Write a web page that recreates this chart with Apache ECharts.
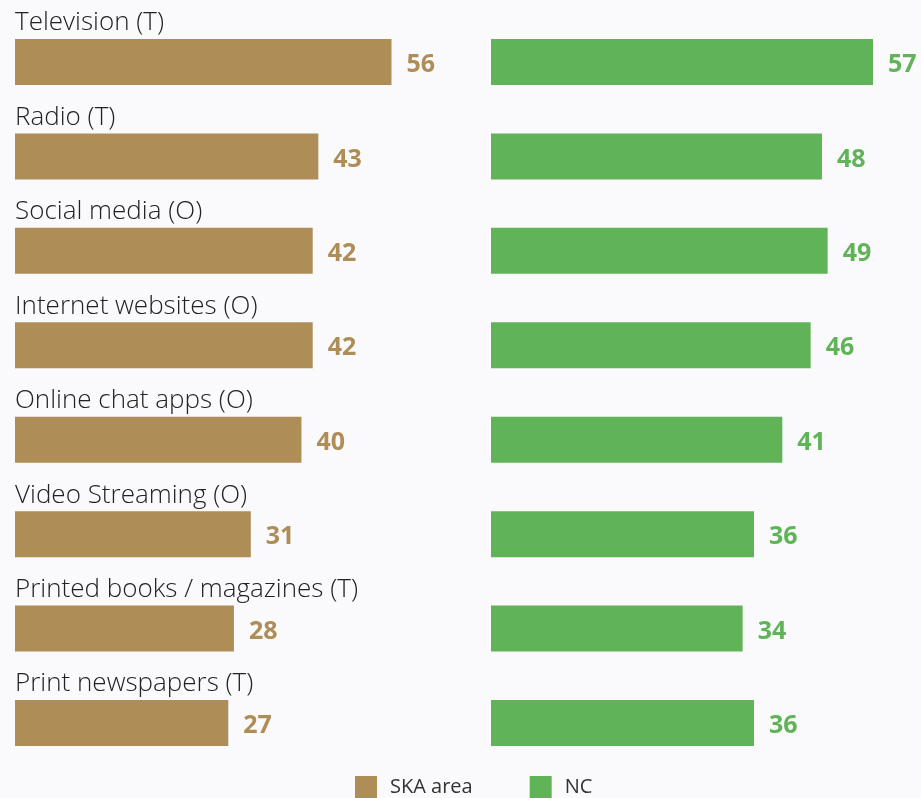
<!DOCTYPE html>
<html>
<head>
<meta charset="utf-8">
<script src="https://cdn.jsdelivr.net/npm/echarts@6/dist/echarts.min.js"></script>
<style>
html,body{margin:0;padding:0;background:#fafafc;}
#chart{width:921px;height:798px;}
</style>
</head>
<body>
<div id="chart"></div>
<script>
const categories = ['Television (T)', 'Radio (T)', 'Social media (O)', 'Internet websites (O)', 'Online chat apps (O)', 'Video Streaming (O)', 'Printed books / magazines (T)', 'Print newspapers (T)'];
const skaValues = [56, 43, 42, 42, 40, 31, 28, 27];
const ncValues = [57, 48, 49, 46, 41, 36, 34, 36];
const seriesNames = ['SKA area', 'NC'];

const GOLD = '#ae8d57';
const GREEN = '#60b457';
const LEFT_MIN = -10.9, RIGHT_MIN = -10.4, AXIS_MAX = 60;
const BAR_H = 46;
const FONT = '"Open Sans", "Noto Sans", sans-serif';

function makeRender(color, axisMin, withCats) {
  return function (params, api) {
    const v = api.value(0);
    const ci = api.value(1);
    const start = api.coord([axisMin, ci]);
    const end = api.coord([v, ci]);
    const children = [
      { type: 'rect', shape: { x: start[0], y: start[1] - BAR_H / 2, width: end[0] - start[0], height: BAR_H }, style: { fill: color } },
      { type: 'text', style: { text: String(v), x: end[0] + 15, y: end[1] + 3, fill: color, font: 'bold 25px ' + FONT, verticalAlign: 'middle', align: 'left' } }
    ];
    if (withCats) {
      children.push({ type: 'text', style: { text: categories[ci], x: start[0], y: start[1] - BAR_H / 2 - 3, fill: '#222', font: '300 26px ' + FONT, verticalAlign: 'bottom', align: 'left' } });
    }
    return { type: 'group', children: children };
  };
}

const chart = echarts.init(document.getElementById('chart'));
chart.setOption({
  backgroundColor: '#fafafc',
  animation: false,
  legend: {
    data: seriesNames,
    left: 355, top: 776, padding: 0,
    icon: 'rect', itemWidth: 22, itemHeight: 22, itemGap: 57,
    textStyle: { fontSize: 20, color: '#333', fontFamily: FONT, padding: [0, 0, 0, 8] }
  },
  grid: [
    { left: 15, width: 399, top: 14.8, height: 755.4 },
    { left: 491, width: 399, top: 14.8, height: 755.4 }
  ],
  xAxis: [
    { type: 'value', gridIndex: 0, min: LEFT_MIN, max: AXIS_MAX, show: false },
    { type: 'value', gridIndex: 1, min: RIGHT_MIN, max: AXIS_MAX, show: false }
  ],
  yAxis: [
    { type: 'category', gridIndex: 0, data: categories, inverse: true, show: false },
    { type: 'category', gridIndex: 1, data: categories, inverse: true, show: false }
  ],
  series: [
    { name: seriesNames[0], type: 'custom', xAxisIndex: 0, yAxisIndex: 0, itemStyle: { color: GOLD },
      renderItem: makeRender(GOLD, LEFT_MIN, true), encode: { x: 0, y: 1 },
      data: skaValues.map((v, i) => [v, i]) },
    { name: seriesNames[1], type: 'custom', xAxisIndex: 1, yAxisIndex: 1, itemStyle: { color: GREEN },
      renderItem: makeRender(GREEN, RIGHT_MIN, false), encode: { x: 0, y: 1 },
      data: ncValues.map((v, i) => [v, i]) }
  ]
});
</script>
</body>
</html>
